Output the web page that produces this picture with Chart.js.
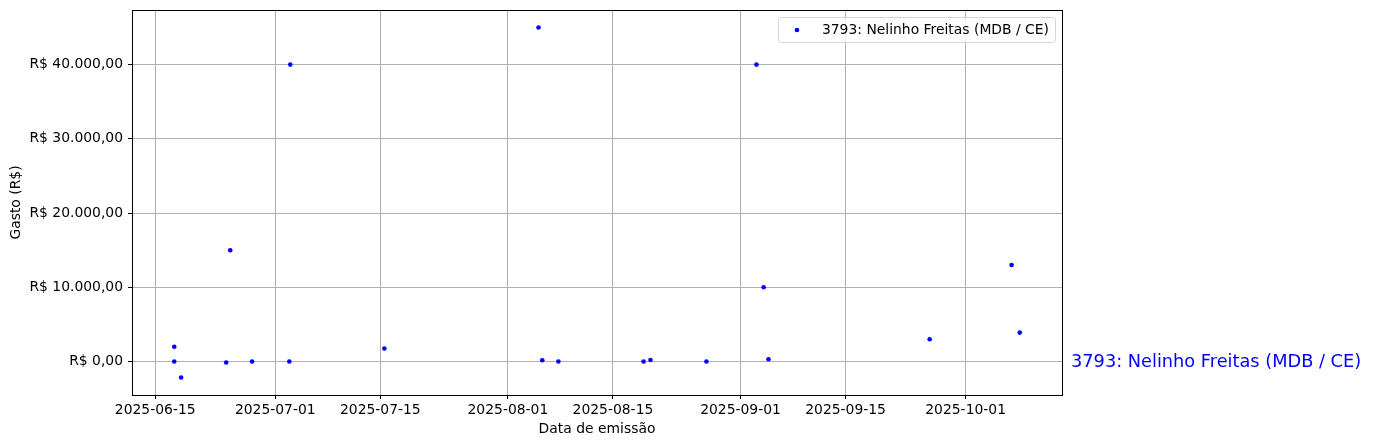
<!DOCTYPE html>
<html>
<head>
<meta charset="utf-8">
<script src="https://cdn.jsdelivr.net/npm/chart.js@4"></script>
<style>
  body { margin: 0; background: #fff; }
  canvas { display: block; }
</style>
</head>
<body>
<canvas id="chart" width="1399" height="448"></canvas>
<script>
const seriesLabel = '3793: Nelinho Freitas (MDB / CE)';

// data de emissão (UTC) and gasto in R$
const emissionDates = [
  '2025-06-17T13:00', '2025-06-17T13:00', '2025-06-18T11:00', '2025-06-24T11:00',
  '2025-06-25T00:00', '2025-06-27T22:00', '2025-07-02T21:00', '2025-07-03T00:00',
  '2025-07-15T13:00', '2025-08-05T02:00', '2025-08-05T14:00', '2025-08-07T17:30',
  '2025-08-19T02:00', '2025-08-20T00:00', '2025-08-27T11:00', '2025-09-03T03:00',
  '2025-09-04T02:00', '2025-09-04T17:30', '2025-09-26T05:00', '2025-10-07T03:00',
  '2025-10-08T05:00'
];
const spending = [
  2000, 0, -2150, -130,
  15000, 0, 0, 40000,
  1750, 45000, 180, 0,
  0, 200, 0, 40000,
  10000, 300, 3000, 13000,
  3900
];

const xTickLabels = ['2025-06-15', '2025-07-01', '2025-07-15', '2025-08-01',
                     '2025-08-15', '2025-09-01', '2025-09-15', '2025-10-01'];
const yTickValues = [0, 10000, 20000, 30000, 40000];

const toDays = (s) => Date.parse(s.length == 10 ? s + 'T00:00Z' : s + 'Z') / 864e5;

const points = emissionDates.map((d, i) => ({x: toDays(d), y: spending[i]}));
const xTickVals = xTickLabels.map(toDays);

// matplotlib-like 5% margins
function padded(vals) {
  const lo = Math.min(...vals), hi = Math.max(...vals);
  const m = (hi - lo) * 0.05;
  return [lo - m, hi + m];
}
const [xMin, xMax] = padded(points.map((p) => p.x));
const [yMin, yMax] = padded(spending);

function brl(v) {
  const neg = v < 0;
  const parts = Math.abs(v).toFixed(2).split('.');
  const int = parts[0].replace(/\B(?=(\d{3})+(?!\d))/g, '.');
  return 'R$ ' + (neg ? '-' : '') + int + ',' + parts[1];
}

const FONT = 'DejaVu Sans';
const tickFont = {family: FONT, size: 13.9};

const extras = {
  id: 'extras',
  afterDraw(chart) {
    const ctx = chart.ctx;
    const a = chart.chartArea;
    ctx.save();
    // frame (all four spines)
    ctx.strokeStyle = '#000';
    ctx.lineWidth = 1;
    ctx.strokeRect(Math.round(a.left) + 0.5, Math.round(a.top) + 0.5,
                   Math.round(a.right - a.left), Math.round(a.bottom - a.top));

    // legend box, upper right
    ctx.font = '13.9px "' + FONT + '"';
    const tw = ctx.measureText(seriesLabel).width;
    const bw = 44 + tw + 6, bh = 25;
    const bx = a.right - 7 - bw, by = a.top + 7;
    ctx.globalAlpha = 0.8;
    ctx.fillStyle = '#fff';
    ctx.strokeStyle = '#cccccc';
    ctx.beginPath();
    ctx.roundRect(bx + 0.5, by + 0.5, bw, bh, 3);
    ctx.fill();
    ctx.stroke();
    ctx.globalAlpha = 1;
    ctx.fillStyle = '#0000ff';
    ctx.beginPath();
    ctx.arc(bx + 19, by + bh / 2 + 0.5, 2.3, 0, Math.PI * 2);
    ctx.fill();
    ctx.fillStyle = '#000';
    ctx.textBaseline = 'middle';
    ctx.fillText(seriesLabel, bx + 44, by + bh / 2 + 1);

    // label right of the axes at y = 0
    const y0 = chart.scales.y.getPixelForValue(0);
    ctx.font = '17.75px "' + FONT + '"';
    ctx.fillStyle = '#0000ff';
    ctx.fillText(seriesLabel, a.right + 9, y0 + 1);
    ctx.restore();
  }
};

new Chart(document.getElementById('chart'), {
  type: 'scatter',
  data: {
    datasets: [{
      label: seriesLabel,
      data: points,
      backgroundColor: '#0000ff',
      borderColor: '#0000ff',
      borderWidth: 0,
      pointRadius: 2.3
    }]
  },
  options: {
    responsive: false,
    animation: false,
    layout: {padding: {left: 0, right: 337, top: 10, bottom: 0}},
    plugins: {legend: {display: false}, tooltip: {enabled: false}},
    scales: {
      x: {
        type: 'linear',
        min: xMin,
        max: xMax,
        z: 1,
        afterBuildTicks: (s) => { s.ticks = xTickVals.map((v) => ({value: v})); },
        afterFit: (s) => { s.height = 53; s.paddingLeft = 0; s.paddingRight = 0; },
        ticks: {
          autoSkip: false,
          maxRotation: 0,
          padding: 3,
          color: '#000',
          font: tickFont,
          callback: (v) => xTickLabels[xTickVals.indexOf(v)]
        },
        grid: {color: '#b0b0b0', lineWidth: 1, tickLength: 4, tickColor: '#000', tickWidth: 1},
        border: {display: false},
        title: {display: true, text: 'Data de emissão', color: '#000', font: tickFont,
                padding: {top: 0, bottom: 10}}
      },
      y: {
        min: yMin,
        max: yMax,
        z: 1,
        afterBuildTicks: (s) => { s.ticks = yTickValues.map((v) => ({value: v})); },
        afterFit: (s) => { s.width = 132; s.paddingTop = 0; s.paddingBottom = 0; },
        ticks: {
          padding: 5,
          color: '#000',
          font: tickFont,
          callback: (v) => brl(v)
        },
        grid: {color: '#b0b0b0', lineWidth: 1, tickLength: 4, tickColor: '#000', tickWidth: 1},
        border: {display: false},
        title: {display: true, text: 'Gasto (R$)', color: '#000', font: tickFont,
                padding: {top: 8, bottom: 0}}
      }
    }
  },
  plugins: [extras]
});
</script>
</body>
</html>
